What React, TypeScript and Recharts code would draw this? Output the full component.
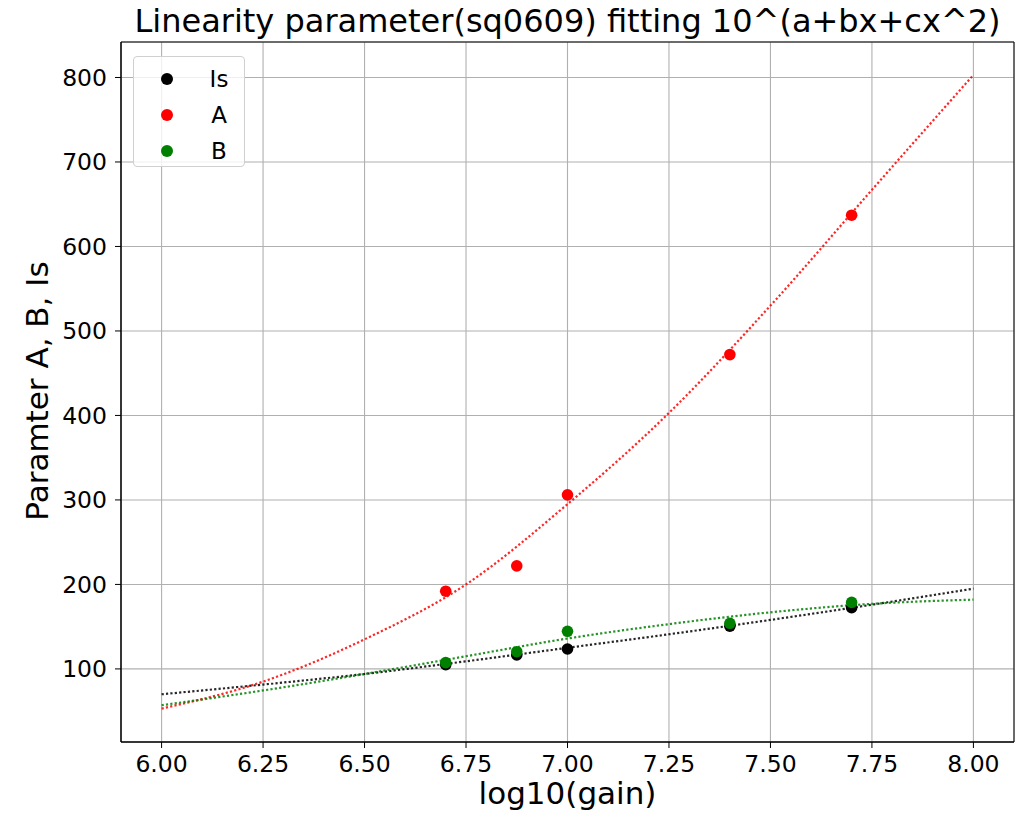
import React from "react";
import {
	ComposedChart,
	Scatter,
	Line,
	XAxis,
	YAxis,
	CartesianGrid,
	Legend,
	ReferenceArea,
} from "recharts";

// measured points
const gainX = [6.7, 6.875, 7.0, 7.4, 7.7];
const isValues = [105, 116.5, 123.6, 150.5, 172.4];
const aValues = [192, 222, 306, 472, 637];
const bValues = [107.5, 120.4, 144.5, 154, 178.7];

// fitted curves 10^(a+bx+cx^2)
const fitX = [6.0, 6.25, 6.5, 6.75, 7.0, 7.25, 7.5, 7.75, 8.0];
const fitIs = [70, 81.5, 94, 109, 125, 141, 158, 176, 195];
const fitA = [53, 85, 135, 200, 295, 403, 530, 667, 803];
const fitB = [57, 74.5, 94, 115, 136, 153, 167, 177, 182];

const xTicks = [6.0, 6.25, 6.5, 6.75, 7.0, 7.25, 7.5, 7.75, 8.0];
const yTicks = [100, 200, 300, 400, 500, 600, 700, 800];

const X_DOMAIN = [5.9, 8.1];
const Y_DOMAIN = [13.5, 842];

const font = "DejaVu Sans";
const tickStyle = { fontSize: 23.5, fill: "#000", fontFamily: font };

const toPoints = (xs: number[], ys: number[]) =>
	xs.map((x, i) => ({ x, y: ys[i] }));

const series = [
	{ name: "Is", color: "#000000", pts: toPoints(gainX, isValues), fit: toPoints(fitX, fitIs) },
	{ name: "A", color: "#ff0000", pts: toPoints(gainX, aValues), fit: toPoints(fitX, fitA) },
	{ name: "B", color: "#008000", pts: toPoints(gainX, bValues), fit: toPoints(fitX, fitB) },
];

const dot = (color: string) => (props: any) =>
	<circle cx={props.cx} cy={props.cy} r={5.8} fill={color} />;

function LegendBox() {
	return (
		<div
			style={{
				width: 112,
				height: 111,
				border: "1px solid #d0d0d0",
				borderRadius: 4,
				background: "rgba(255,255,255,0.8)",
				fontFamily: font,
				fontSize: 23,
				color: "#000",
				boxSizing: "border-box",
				position: "relative",
			}}>
			{series.map((s, i) => (
				<div
					key={s.name}
					style={{
						position: "absolute",
						left: 0,
						top: 7 + i * 36,
						height: 30,
						width: 112,
						display: "flex",
						alignItems: "center",
					}}>
					<span
						style={{
							position: "absolute",
							left: 27,
							width: 12,
							height: 12,
							borderRadius: 6,
							background: s.color,
						}}
					/>
					<span style={{ position: "absolute", left: 65, width: 40, textAlign: "center" }}>
						{s.name}
					</span>
				</div>
			))}
		</div>
	);
}

export default function App() {
	return (
		<div
			style={{
				position: "absolute",
				left: 0,
				top: 0,
				width: 1022,
				height: 815,
				background: "#fff",
				fontFamily: font,
			}}>
			<ComposedChart
				width={1022}
				height={815}
				margin={{ top: 42, right: 8, bottom: 0, left: 0 }}>
				<CartesianGrid stroke='#b0b0b0' strokeWidth={1.1} />
				<XAxis
					type='number'
					dataKey='x'
					domain={X_DOMAIN}
					ticks={xTicks}
					allowDataOverflow
					height={73}
					tickFormatter={(v: number) => v.toFixed(2)}
					tick={tickStyle}
					tickSize={6}
					tickMargin={7}
					stroke='#000'
				/>
				<YAxis
					type='number'
					dataKey='y'
					domain={Y_DOMAIN}
					ticks={yTicks}
					allowDataOverflow
					width={121}
					tick={tickStyle}
					tickSize={6}
					tickMargin={8}
					stroke='#000'
				/>
				<ReferenceArea
					x1={X_DOMAIN[0]}
					x2={X_DOMAIN[1]}
					y1={Y_DOMAIN[0]}
					y2={Y_DOMAIN[1]}
					fill='none'
					stroke='#000'
					strokeWidth={1}
					ifOverflow='visible'
				/>
				{series.map((s) => (
					<Scatter
						key={"pts-" + s.name}
						name={s.name}
						data={s.pts}
						dataKey='y'
						fill={s.color}
						shape={dot(s.color)}
						isAnimationActive={false}
					/>
				))}
				{series.map((s) => (
					<Line
						key={"fit-" + s.name}
						data={s.fit}
						dataKey='y'
						type='monotone'
						stroke={s.color}
						strokeOpacity={0.85}
						strokeWidth={2.2}
						strokeDasharray='2.2 2.2'
						dot={false}
						activeDot={false}
						legendType='none'
						isAnimationActive={false}
					/>
				))}
				<Legend
					layout='horizontal'
					verticalAlign='middle'
					align='center'
					content={() => <LegendBox />}
					wrapperStyle={{ left: 133, top: 56, width: 112, height: 111 }}
				/>
			</ComposedChart>
			<div
				style={{
					position: "absolute",
					left: 121,
					width: 893,
					top: 0,
					textAlign: "center",
					fontSize: 32,
					lineHeight: "42px",
				}}>
				Linearity parameter(sq0609) fitting 10^(a+bx+cx^2)
			</div>
			<div
				style={{
					position: "absolute",
					left: 121,
					width: 893,
					top: 782,
					textAlign: "center",
					fontSize: 31,
					lineHeight: "22px",
				}}>
				log10(gain)
			</div>
			<div
				style={{
					position: "absolute",
					left: 37,
					top: 391,
					fontSize: 31,
					lineHeight: "34px",
					whiteSpace: "nowrap",
					transform: "translate(-50%, -50%) rotate(-90deg)",
				}}>
				Paramter A, B, Is
			</div>
		</div>
	);
}
